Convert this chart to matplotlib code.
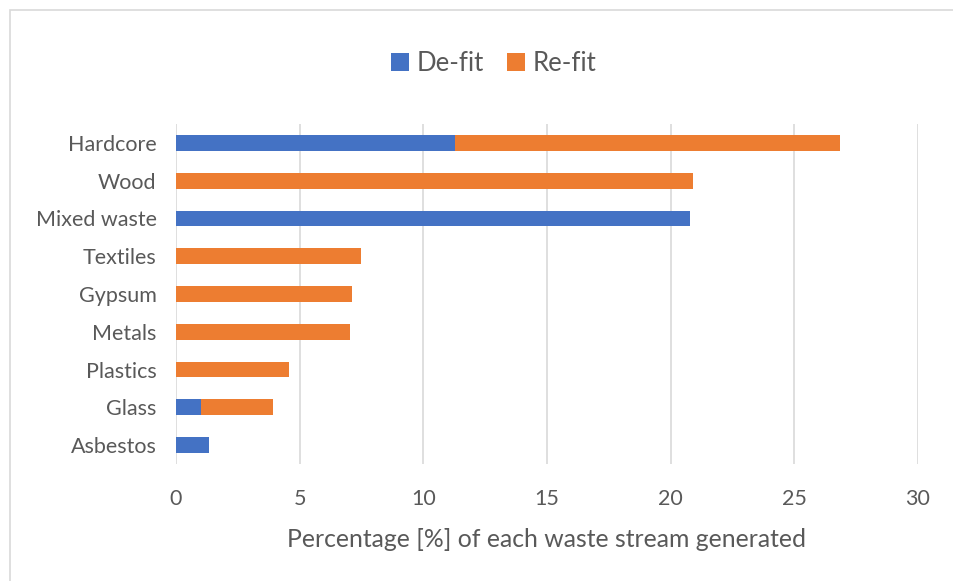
import matplotlib.pyplot as plt
import matplotlib.patches as mpatches
import numpy as np

# Data
categories = ["Hardcore", "Wood", "Mixed waste", "Textiles", "Gypsum",
              "Metals", "Plastics", "Glass", "Asbestos"]
defit = [11.3, 0, 20.8, 0, 0, 0, 0, 1.0, 1.35]
refit = [15.55, 20.9, 0, 7.5, 7.1, 7.05, 4.55, 2.92, 0]
xticks = [0, 5, 10, 15, 20, 25, 30]

blue = "#4472C4"
orange = "#ED7D31"
text_color = "#595959"

plt.rcParams["font.family"] = ["Lato", "DejaVu Sans"]

fig = plt.figure(figsize=(9.54, 5.81), dpi=100)
ax = fig.add_axes([176 / 954, 1 - 464 / 581, (918 - 176) / 954, (464 - 124) / 581])

# Outer frame of the chart area
frame = mpatches.Rectangle((10 / 954, -0.1), 1.2, 1 - 10 / 581 + 0.1,
                           transform=fig.transFigure, fill=False,
                           edgecolor="#D9D9D9", lw=1.2, clip_on=False)
fig.patches.append(frame)

y = np.arange(len(categories))
ax.barh(y, defit, height=0.42, color=blue, label="De-fit", zorder=3)
ax.barh(y, refit, height=0.42, left=defit, color=orange, label="Re-fit", zorder=3)

ax.set_ylim(len(categories) - 0.5, -0.5)
ax.set_xlim(0, 30)
ax.set_xticks(xticks)
ax.set_yticks(y)
ax.set_yticklabels(categories)
ax.tick_params(axis="both", length=0, labelsize=15.5, colors=text_color)
ax.tick_params(axis="x", pad=18)
ax.tick_params(axis="y", pad=14)

ax.grid(axis="x", color="#D9D9D9", lw=1.2, zorder=0)
for s in ax.spines.values():
    s.set_visible(False)

ax.set_xlabel("Percentage [%] of each waste stream generated",
              fontsize=17.8, color=text_color, labelpad=14)

fig.legend(loc="center", bbox_to_anchor=(494 / 954, 1 - 63 / 581), ncol=2,
           frameon=False, fontsize=18.5, labelcolor=text_color,
           handlelength=0.7, handleheight=0.7, handletextpad=0.3,
           columnspacing=0.9)

plt.savefig("out.png", dpi=100)
